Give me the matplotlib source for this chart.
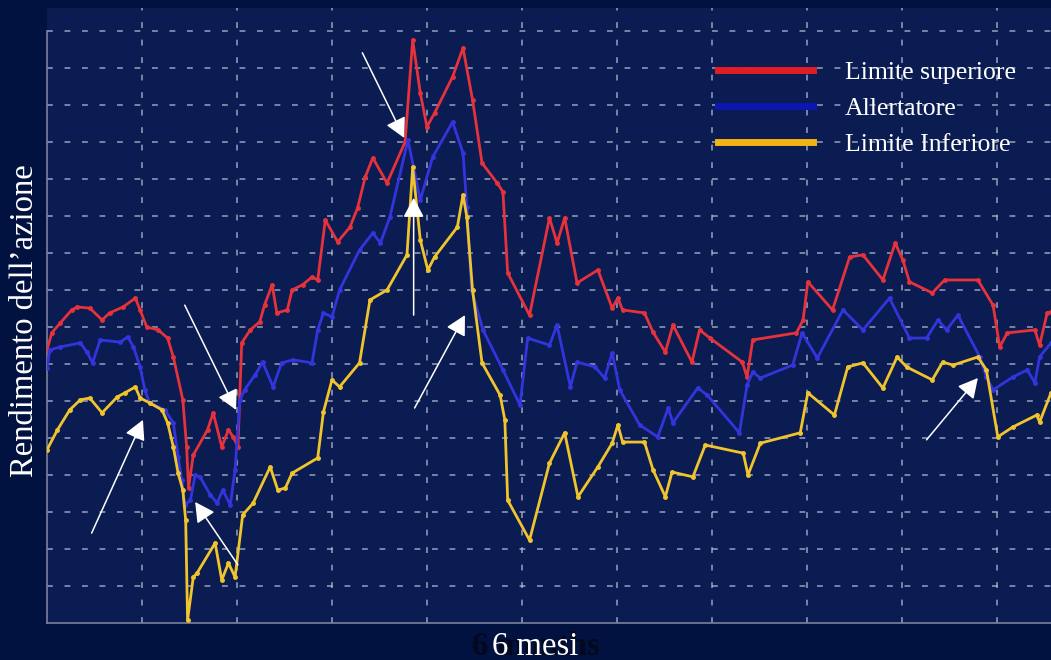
import numpy as np
import matplotlib.pyplot as plt
from matplotlib.lines import Line2D

plt.rcParams['font.family'] = ['Liberation Serif', 'DejaVu Serif']

# Time axis in grid units (one vertical grid line per unit), return in grid units
upper_x = [0.00, 0.05, 0.14, 0.26, 0.32, 0.45, 0.58, 0.66, 0.80, 0.93, 0.98, 1.05,
           1.17, 1.27, 1.33, 1.43, 1.47, 1.49, 1.54, 1.69, 1.75, 1.84, 1.91, 1.96,
           2.01, 2.05, 2.14, 2.24, 2.29, 2.37, 2.42, 2.53, 2.58, 2.69, 2.79, 2.85,
           2.93, 3.06, 3.19, 3.27, 3.35, 3.43, 3.58, 3.77, 3.85, 3.93, 4.00, 4.08,
           4.27, 4.38, 4.48, 4.58, 4.74, 4.80, 4.85, 5.08, 5.29, 5.37, 5.45, 5.58,
           5.80, 5.95, 6.01, 6.06, 6.29, 6.38, 6.51, 6.59, 6.79, 6.87, 6.98, 7.32,
           7.37, 7.43, 7.89, 7.96, 8.01, 8.27, 8.45, 8.59, 8.80, 8.93, 9.01, 9.08,
           9.32, 9.45, 9.80, 9.96, 10.03, 10.11, 10.40, 10.45, 10.53, 10.57]
upper_y = [7.38, 7.84, 8.11, 8.46, 8.54, 8.51, 8.19, 8.38, 8.54, 8.78, 8.46, 8.00,
           7.92, 7.70, 7.19, 6.03, 4.76, 3.65, 4.54, 5.22, 5.68, 4.76, 5.22, 5.03,
           4.76, 7.57, 7.92, 8.14, 8.59, 9.14, 8.38, 8.46, 9.00, 9.14, 9.35, 9.27,
           10.89, 10.30, 10.70, 11.22, 12.05, 12.57, 11.89, 13.00, 15.76, 14.32, 13.41, 13.78,
           14.76, 15.54, 14.14, 12.43, 11.89, 11.65, 9.46, 8.32, 10.95, 10.27, 10.95, 9.19,
           9.54, 8.51, 8.78, 8.46, 8.38, 7.86, 7.32, 8.05, 7.05, 7.92, 7.70, 7.05,
           6.65, 7.65, 7.84, 8.19, 9.22, 8.46, 9.89, 9.95, 9.27, 10.27, 9.81, 9.22,
           8.92, 9.27, 9.27, 8.59, 7.46, 7.84, 7.92, 7.51, 8.38, 8.41]

alert_x = [0.00, 0.03, 0.14, 0.35, 0.42, 0.48, 0.56, 0.77, 0.85, 0.91, 0.98, 1.03,
           1.08, 1.24, 1.33, 1.38, 1.42, 1.45, 1.51, 1.56, 1.61, 1.72, 1.79, 1.85,
           1.93, 1.98, 2.03, 2.08, 2.19, 2.27, 2.38, 2.47, 2.59, 2.79, 2.85, 2.91,
           3.00, 3.08, 3.29, 3.43, 3.51, 3.61, 3.80, 3.93, 4.06, 4.27, 4.38, 4.42,
           4.47, 4.59, 4.80, 4.98, 5.06, 5.29, 5.37, 5.51, 5.58, 5.77, 5.87, 5.95,
           6.03, 6.24, 6.43, 6.54, 6.59, 6.85, 6.95, 7.29, 7.37, 7.43, 7.51, 7.85,
           7.95, 8.11, 8.38, 8.59, 8.87, 9.08, 9.26, 9.38, 9.47, 9.59, 9.82, 9.89,
           9.96, 10.17, 10.32, 10.40, 10.45, 10.57]
alert_y = [6.89, 7.38, 7.46, 7.57, 7.32, 7.03, 7.65, 7.59, 7.73, 7.46, 6.92, 6.30,
           5.95, 5.76, 5.41, 4.49, 3.86, 3.19, 3.32, 4.00, 3.95, 3.46, 3.24, 3.59,
           3.19, 4.14, 6.03, 6.30, 6.70, 7.05, 6.38, 7.03, 7.11, 7.03, 7.92, 8.38,
           8.27, 9.00, 10.08, 10.54, 10.27, 10.97, 13.05, 11.43, 12.59, 13.54, 12.70, 11.24,
           9.00, 7.92, 6.84, 5.89, 7.70, 7.51, 8.05, 6.38, 7.05, 6.92, 6.62, 7.30,
           6.30, 5.35, 5.03, 5.81, 5.41, 6.35, 6.16, 5.14, 6.43, 6.78, 6.62, 6.97,
           7.84, 7.16, 8.46, 7.92, 8.78, 7.70, 7.70, 8.19, 7.92, 8.32, 7.19, 6.65,
           6.30, 6.65, 6.84, 6.49, 7.19, 7.57]

lower_x = [0.00, 0.11, 0.24, 0.35, 0.45, 0.58, 0.74, 0.82, 0.93, 0.98, 1.08, 1.21,
           1.27, 1.33, 1.38, 1.43, 1.46, 1.48, 1.54, 1.58, 1.77, 1.84, 1.91, 1.98,
           2.06, 2.17, 2.35, 2.43, 2.51, 2.58, 2.85, 2.91, 3.00, 3.08, 3.29, 3.40,
           3.58, 3.79, 3.85, 3.93, 4.01, 4.08, 4.32, 4.38, 4.42, 4.48, 4.58, 4.77,
           4.82, 4.85, 5.08, 5.29, 5.45, 5.59, 5.80, 5.95, 6.01, 6.06, 6.29, 6.38,
           6.51, 6.58, 6.80, 6.93, 7.33, 7.38, 7.51, 7.93, 8.01, 8.29, 8.43, 8.59,
           8.80, 8.95, 9.05, 9.32, 9.43, 9.54, 9.80, 9.89, 10.01, 10.17, 10.42, 10.45,
           10.57]
lower_y = [4.68, 5.22, 5.76, 6.03, 6.08, 5.68, 6.11, 6.22, 6.38, 6.08, 5.95, 5.76,
           5.41, 4.76, 4.05, 3.59, 2.78, 0.08, 1.24, 1.35, 2.16, 1.16, 1.62, 1.24,
           2.92, 3.24, 4.22, 3.59, 3.65, 4.05, 4.46, 5.70, 6.57, 6.38, 7.03, 8.73,
           9.00, 9.95, 12.32, 10.35, 9.54, 9.89, 10.70, 11.57, 10.97, 9.00, 7.03, 6.16,
           5.49, 3.32, 2.24, 4.32, 5.14, 3.41, 4.22, 4.86, 5.35, 4.89, 4.89, 4.14,
           3.41, 4.08, 3.95, 4.81, 4.59, 4.00, 4.86, 5.14, 6.22, 5.62, 6.92, 7.03,
           6.35, 7.19, 6.92, 6.57, 7.05, 6.97, 7.19, 6.84, 5.03, 5.30, 5.62, 5.43,
           6.22]

labels = ['Limite superiore', 'Allertatore', 'Limite Inferiore']
line_colors = ['#e5323b', '#3434dc', '#f0c42c']
legend_colors = ['#e01c24', '#0c16b0', '#f0b414']

fig = plt.figure(figsize=(10.51, 6.6), dpi=100, facecolor='#011241')
ax = fig.add_axes([47 / 1051, 37 / 660, 1 - 47 / 1051, 615 / 660])
ax.set_facecolor('#0b1c52')
ax.set_xlim(0, 10.57)
ax.set_ylim(0, 16.62)

# dashed grid, no tick labels
ax.set_xticks(np.arange(1, 11))
ax.set_yticks(np.arange(1, 17))
ax.grid(True, color='#b4bcd2', alpha=0.65, lw=1.4, ls=(0, (3, 6)))
ax.tick_params(length=0, labelbottom=False, labelleft=False)
for side in ['top', 'right']:
    ax.spines[side].set_visible(False)
for side in ['left', 'bottom']:
    ax.spines[side].set_color('#7a8298')
    ax.spines[side].set_linewidth(1.2)
ax.spines['left'].set_bounds(0, 16)

series = [(upper_x, upper_y), (alert_x, alert_y), (lower_x, lower_y)]
for (xs, ys), c in zip(series, line_colors):
    ax.plot(xs, ys, color=c, lw=2.0, marker='o', ms=2.5, zorder=3)

# arrows at the crossing points
arrows = [((0.47, 2.43), (1.01, 5.49)),
          ((1.45, 8.59), (1.99, 5.76)),
          ((2.01, 1.57), (1.56, 3.27)),
          ((3.32, 15.41), (3.76, 13.11)),
          ((3.86, 8.32), (3.86, 11.49)),
          ((3.87, 5.81), (4.40, 8.32)),
          ((9.26, 4.95), (9.80, 6.62))]
for tail, head in arrows:
    ax.annotate('', xy=head, xytext=tail, zorder=5,
                arrowprops=dict(arrowstyle='-|>,head_length=0.75,head_width=0.4',
                                color='white', lw=1.1, mutation_scale=16,
                                shrinkA=0, shrinkB=0))

handles = [Line2D([], [], color=c, lw=5) for c in legend_colors]
ax.legend(handles, labels, loc='upper left', bbox_to_anchor=(0.668, 0.914),
          frameon=False, fontsize=18.5, handlelength=3.7, handletextpad=1.25,
          labelspacing=0.5, borderpad=0, borderaxespad=0, labelcolor='white')

fig.text(25 / 1051, 1 - 321 / 660, 'Rendimento dell\u2019azione', rotation=90,
         ha='center', va='center', fontsize=23.5, color='white')
# old English label shows through behind the Italian one
fig.text(536 / 1051, 1 - 655 / 660, '6 months', ha='center', va='baseline',
         fontsize=23.5, weight='bold', color='#03081c')
fig.text(535 / 1051, 1 - 655 / 660, '6 mesi', ha='center', va='baseline',
         fontsize=23.5, color='white')

fig.savefig('out.png', dpi=100, facecolor=fig.get_facecolor())
